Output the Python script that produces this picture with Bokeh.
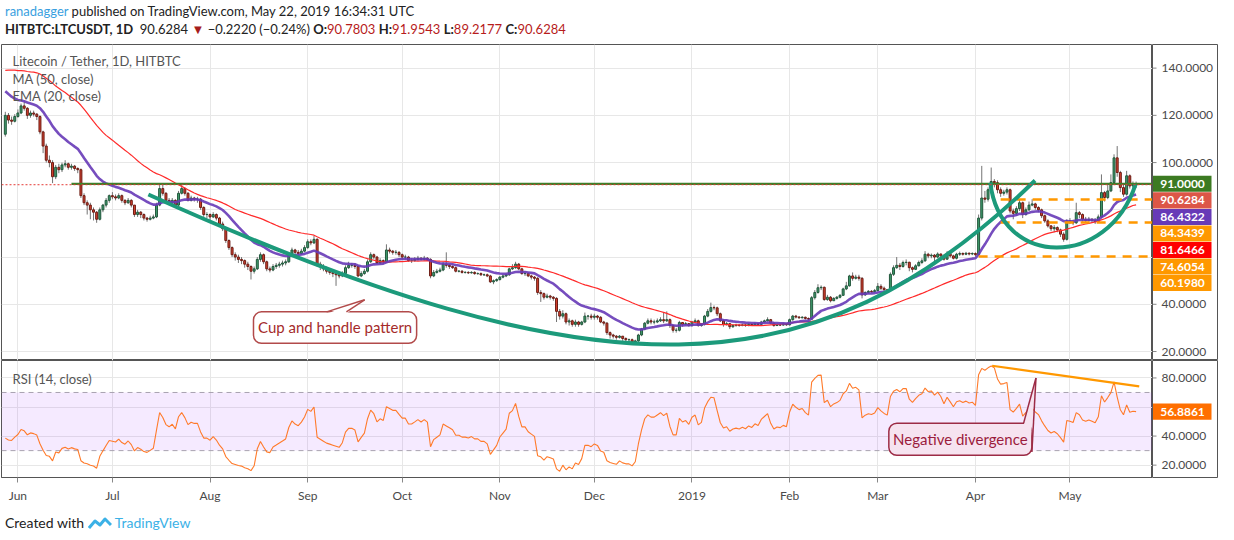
import pandas as pd
from bokeh.core.properties import value
from bokeh.embed import file_html
from bokeh.layouts import column, row
from bokeh.models import (BoxAnnotation, ColumnDataSource, Div, FixedTicker,
                          Label, Range1d, Span)
from bokeh.plotting import figure
from bokeh.resources import INLINE

FONT = "Lato"

# ---- data (LTC/USDT daily, HitBTC) ----
first_day = "2018-05-28"

# closes before the visible window, only used to warm up MA / EMA / RSI
warmup_closes = [117, 115, 117, 119, 130, 126, 128, 133, 128, 127,
                 133, 139, 150, 146, 148, 151, 160, 141, 148, 143,
                 150, 148, 147, 147, 155, 165, 168, 170, 163, 158,
                 155, 157, 147, 136, 137, 141, 139, 135, 138, 133,
                 136, 136, 139, 134, 126, 120, 122, 119, 118, 112]

closes = [
    120, 118, 117.5, 119.5,
    # Jun
    121, 124, 123, 120, 121, 120.5, 119.5, 113, 107, 101, 100, 94, 98, 97, 99,
    99.5, 98, 98.5, 97.5, 97, 86, 83, 82, 80, 79, 76, 80, 82, 84, 86,
    # Jul
    85.5, 85, 86, 84, 83, 84, 82, 78, 79, 78, 76.5, 76, 76.5, 77, 82, 89,
    87, 84, 83, 84, 82, 87, 89, 87, 84, 85, 84.5, 84.5, 81, 78, 78,
    # Aug
    77, 78, 76.5, 74, 72, 67, 64, 61, 60, 59, 58.5, 57, 56, 54, 55, 59,
    61, 58, 55, 54.5, 56, 56.5, 57, 57.5, 58, 61, 63, 62, 61.5, 62.5, 64,
    # Sep
    66.5, 66, 67.5, 57, 56, 55, 54, 53.5, 53, 52.5, 52, 53, 55.5, 56.5, 56.5,
    56, 52, 53, 54, 58, 61, 60, 57.5, 58.5, 58, 63, 62.5, 62, 62, 61,
    # Oct
    60, 60, 58.5, 58.5, 59, 59.5, 59, 59.5, 59, 52, 53.5, 54, 54.5, 57, 56.5,
    56, 55.5, 54, 54, 53.5, 53.5, 53.3, 53.5, 53, 53, 52.5, 52.5, 52, 49.5, 50, 50.5,
    # Nov
    51.5, 52, 52.5, 55, 55.5, 57, 55, 53, 53, 52, 51.5, 51, 45, 44.5, 43,
    43.5, 43, 42.5, 37, 35, 36, 32.5, 33, 31.5, 32.5, 31.5, 32.5, 35, 35, 34.5,
    # Dec
    35, 34.5, 32.5, 32, 28, 27, 26.5, 26, 26.5, 25.5, 25, 25, 24, 24.5, 27,
    29.5, 32, 33, 32.5, 32.5, 33, 33.5, 33, 33.5, 31, 29, 29, 32.3, 31.5, 31.8, 31,
    # Jan
    32.5, 33, 31, 31.5, 35, 37, 38.6, 38.5, 36, 33, 31.5, 31.8, 30.5, 31, 31.2,
    31, 31.3, 31, 31.5, 31.2, 31.8, 31.5, 32.5, 33, 33.5, 32, 31, 31.3, 31.2, 31.5, 31.3,
    # Feb
    33.5, 35, 34.6, 34.3, 34.5, 34, 33.7, 42.8, 45, 47, 47.2, 42, 43, 41.5,
    42.5, 43, 43.8, 46.5, 47.8, 52, 51, 51.5, 51, 44, 45, 45.5, 45.3, 45.8,
    # Mar
    47.6, 46.8, 46.2, 45.8, 52.7, 55.5, 56.5, 56, 57.7, 57.8, 55.5, 54.8, 56.3,
    57.7, 58.4, 61.2, 60.5, 60.8, 60, 61.3, 60.5, 59.1, 61.4, 60.5, 59.5, 61.2,
    61.5, 61.2, 61.6, 61.3, 61.5,
    # Apr
    61, 76.5, 85, 84.5, 88.5, 92, 91.5, 88.5, 87, 87.5, 88.5, 79.5, 78.5, 80.5,
    83, 78, 80, 82, 82.5, 81, 80, 77.5, 75.3, 73.2, 72, 72.5, 71.5, 69.7, 67.5, 75.3,
    # May
    75, 74.5, 78.8, 78, 76, 75.5, 76, 75.5, 75, 77, 87.3, 85.2, 88, 91.5, 102,
    95.8, 89.4, 86.6, 94.4, 90.1, 90.7803, 90.6284,
]

highs = [
    121.5, 121, 119.5, 120.5,
    122.5, 125, 126, 123.5, 122, 122, 121, 120, 113.5, 108, 103, 101, 99, 99.5, 100,
    101, 100, 99.5, 99, 98, 97.5, 87, 84, 83, 81, 79.5, 81, 82.5, 85, 86.5,
    87.5, 86.5, 87, 86.5, 84.5, 85, 84.5, 82, 80, 79.5, 78.5, 77, 77.5, 78, 83, 90.5,
    91, 87.5, 85, 85, 84.5, 88, 90.5, 89.5, 87.5, 86, 85.5, 85.5, 85, 81.5, 79,
    78.5, 79, 78.5, 77, 75, 72.5, 67.5, 64.5, 62, 61, 60, 59, 58, 56.5, 56, 60,
    62, 61.5, 58.5, 56, 57, 57.5, 58, 58.5, 59, 62, 64, 63.5, 63, 63.5, 65,
    67.5, 67.5, 69, 68, 58, 57, 56, 55, 54.5, 54, 53.5, 54, 56.5, 58, 57.5,
    57.5, 56.5, 54, 55, 59, 62, 61.5, 60.5, 59.5, 59, 65.4, 64, 63, 63, 62.5,
    61.5, 61, 60.5, 59.5, 60, 60.5, 60, 60.5, 60, 59.5, 54.5, 55, 55.5, 58, 62,
    57, 56.5, 56, 54.5, 54.5, 54, 54, 54, 54, 53.5, 53.5, 53, 53, 52.5, 50.5, 51,
    52, 52.5, 53, 55.5, 57, 58, 57.5, 55.5, 54, 53.5, 52.5, 52, 51.5, 46, 45,
    44.5, 44, 43.5, 43, 38, 37.5, 36.5, 34, 33.5, 33.5, 33, 33, 36.5, 35.5, 36,
    36, 35.5, 35, 33, 32.5, 28.5, 27.5, 27, 27, 26.5, 26, 25.5, 25.5, 25, 27.5,
    30, 32.5, 34, 34, 33.5, 34, 34.5, 36.5, 37, 34, 31.5, 30, 33, 32.5, 32.5, 32,
    33, 34, 33.5, 32, 35.5, 38, 40.7, 39.5, 39, 36.5, 33.5, 32.5, 32, 31.5, 31.8,
    31.5, 31.8, 31.5, 32, 31.8, 32.3, 32, 33, 33.5, 34.5, 33.8, 32.3, 31.8, 31.7, 32, 31.9,
    34, 35.5, 35.5, 35, 35, 34.8, 34.4, 43.5, 46, 48.5, 48, 47.5, 44, 43.5,
    43, 43.5, 44.3, 47, 49.5, 52.5, 53.5, 52.5, 52.5, 51.5, 45.5, 46, 46, 46.5,
    49, 48.5, 47.5, 46.5, 53.5, 56.5, 60, 57.5, 58.5, 59, 58, 56, 57,
    58.5, 59.5, 62.5, 61.8, 61.5, 61.3, 62, 61.5, 61, 62.5, 61.8, 61, 61.8,
    62.3, 62, 62.2, 62, 62,
    62, 78, 98.6, 88, 89.5, 97.9, 93, 92.5, 89.5, 88.5, 89.5, 89, 80.5, 81.5,
    84.5, 83.5, 81, 83.5, 84.5, 83, 81.5, 80.5, 78, 76, 73.5, 73.5, 73, 72, 70.5, 76,
    76.5, 75.8, 83, 79.5, 78.5, 77, 77, 76.5, 76.5, 78, 95, 88, 91, 95, 103.5,
    107, 96.5, 91, 96.5, 95, 92, 91.9543,
]

lows = [
    111, 116.5, 116, 117,
    119, 120.5, 122, 118.5, 119, 119.5, 118, 112, 104, 100, 98, 91.3, 93, 95.5, 96,
    98, 97, 97, 96.5, 95.5, 85, 82, 78, 76, 75.5, 74.5, 75.5, 79, 81, 83,
    84.5, 84, 84.5, 83, 82, 82.5, 81, 77, 77, 76.5, 75.5, 75, 75.5, 76, 76.5, 81.5,
    86, 83, 82, 82.5, 81, 81.5, 86.5, 86, 83.5, 83.5, 83.5, 83, 80, 77, 76.5,
    75.5, 76.5, 75.5, 73, 71, 66, 63, 60, 58.5, 57.5, 57, 55.5, 54.5, 50.5, 53, 54.5,
    58, 57, 54, 53.5, 54, 55, 55.5, 56, 56.5, 57.5, 60, 61, 60.5, 61, 62,
    63.5, 65, 65.5, 56, 54.5, 54, 53, 52.5, 51.5, 47.8, 51, 51.5, 52.5, 55, 55.5,
    55, 51.5, 51.5, 52.5, 53.5, 57.5, 59, 57, 57, 57, 57.5, 61.5, 61, 61, 60,
    59, 59, 58, 57.5, 58, 58.5, 58.5, 58.5, 58.5, 51, 51.5, 53, 53.5, 54, 55.5,
    55, 55, 53.5, 53.5, 53, 53, 52.8, 53, 52.5, 52.5, 52, 52, 51.5, 49, 48.5, 49.5,
    50, 51, 51.5, 52, 54.5, 55, 54.5, 52.5, 52, 51.5, 50.5, 50, 44, 41, 42,
    42.5, 42, 41.5, 32.5, 33.5, 34, 31.5, 31, 30.5, 30.5, 30.5, 31, 32, 33.5, 33.5,
    33.5, 33.5, 32, 31, 27, 25.5, 25.5, 25, 25.5, 24.5, 24, 24, 23.3, 23.5, 24,
    26.5, 29, 31.5, 31.5, 31.5, 32, 32.5, 32, 32.5, 30, 28, 28, 28.5, 30.5, 31, 30.5,
    30.5, 32, 30.5, 30.5, 31, 34.5, 36.5, 37.5, 35, 32.5, 30.5, 31, 29.5, 30, 30.5,
    30.5, 30.7, 30.5, 30.7, 30.8, 31, 31, 31.2, 32.2, 32.8, 31.5, 30.5, 30.8, 30.8, 31, 30.9,
    31, 33, 34, 33.8, 34, 33.5, 33.2, 33.5, 42, 44.5, 46, 41.5, 41.5, 40.8,
    41.5, 42, 42.5, 43.5, 46, 47.5, 50, 50.5, 50, 42.5, 43.5, 44.5, 44.8, 45,
    45.5, 46, 45.5, 45, 45.5, 52, 55, 54.5, 55.5, 56.5, 54, 53.5, 54.5,
    56, 57, 58, 59.5, 59.5, 57.8, 59.5, 59.8, 58.5, 58.8, 59.8, 59, 59,
    60.5, 60.6, 60.8, 60.7, 60.8,
    60.2, 60.5, 75.5, 83, 83.5, 87.5, 89.5, 87, 85.5, 86, 86.5, 78.5, 76, 77.5,
    79.5, 76.5, 77.5, 79.5, 81.5, 80, 79, 76.5, 74.5, 72.5, 71, 70.5, 70.5, 68.5, 66.5, 67,
    74, 73.5, 74, 76.5, 75, 74.5, 75, 74.5, 74, 74.5, 76.5, 83.5, 84.5, 87.5, 90.5,
    94, 87.5, 85.5, 86, 89, 89, 89.2177,
]

month_starts = ["2018-06-01", "2018-07-01", "2018-08-01", "2018-09-01",
                "2018-10-01", "2018-11-01", "2018-12-01", "2019-01-01",
                "2019-02-01", "2019-03-01", "2019-04-01", "2019-05-01"]
month_labels = ["Jun", "Jul", "Aug", "Sep", "Oct", "Nov", "Dec", "2019",
                "Feb", "Mar", "Apr", "May"]
price_ticks = [20, 40, 60, 80, 100, 120, 140]
rsi_ticks = [20, 40, 60, 80]

resistance = 91.0
resistance_start = "2018-06-18"
last_price = 90.6284
support_levels = [84.3439, 74.6054, 60.1980]
support_starts = ["2019-04-09", "2019-04-09", "2019-04-02"]

tag_values = [91.0, 90.6284, 86.4322, 84.3439, 81.6466, 74.6054, 60.1980]
tag_colors = ["#3c7a22", "#dc5647", "#673ab7", "#ff9800", "#ff0000",
              "#ff9800", "#ff9800"]
rsi_last = 56.8861

view_start, view_end = "2018-05-26 19:00", "2019-05-27 05:00"


def ms(t):
    return pd.Timestamp(t).value / 1e6


# ---- indicators ----
all_close = pd.Series(warmup_closes + closes, dtype=float)
n0 = len(warmup_closes)
ma50 = all_close.rolling(50).mean().iloc[n0:].to_numpy()
ema20 = all_close.ewm(span=20, adjust=False).mean().iloc[n0:].to_numpy()
delta = all_close.diff()
gain = delta.clip(lower=0).ewm(alpha=1 / 14, adjust=False).mean()
loss = (-delta.clip(upper=0)).ewm(alpha=1 / 14, adjust=False).mean()
rsi = (100 - 100 / (1 + gain / loss)).iloc[n0:].to_numpy()

dates = pd.date_range(first_day, periods=len(closes), freq="D")
opens = [warmup_closes[-1]] + closes[:-1]
hi = [max(h, o, c) for h, o, c in zip(highs, opens, closes)]
lo = [min(l, o, c) for l, o, c in zip(lows, opens, closes)]

df = pd.DataFrame(dict(date=dates, open=opens, high=hi, low=lo, close=closes,
                       ma=ma50, ema=ema20, rsi=rsi))
inc = ColumnDataSource(df[df.close >= df.open])
dec = ColumnDataSource(df[df.close < df.open])
src = ColumnDataSource(df)

xr = Range1d(ms(view_start), ms(view_end))
month_ms = [ms(d) for d in month_starts]
GRID = "#e7e7e7"
EDGE = "#555555"
PANE_W, SCALE_W = 1152, 66


def style(fig, yticks):
    fig.outline_line_color = EDGE
    fig.yaxis.visible = False
    fig.xgrid.ticker = FixedTicker(ticks=month_ms)
    fig.ygrid.ticker = FixedTicker(ticks=yticks)
    fig.xgrid.grid_line_color = GRID
    fig.ygrid.grid_line_color = GRID


def price_scale(height, yr, yticks, tags, half, bottom):
    """Narrow pane right of a chart: tick labels plus coloured value tags."""
    s = figure(width=SCALE_W, height=height, x_range=Range1d(0, SCALE_W),
               y_range=yr, output_backend="svg", toolbar_location=None,
               min_border_left=0, min_border_right=0, min_border_top=0,
               min_border_bottom=bottom)
    s.xaxis.visible = False
    s.yaxis.visible = False
    s.grid.visible = False
    s.outline_line_color = EDGE
    s.segment(x0=[0] * len(yticks), y0=yticks, x1=[4] * len(yticks), y1=yticks,
              line_color="#888888", line_width=1)
    # like TradingView, a tick label hidden under a value tag is not drawn
    ys = [t[0] for t in tags]
    shown = [t for t in yticks if all(abs(t - y) > 1.6 * half for y in ys)]
    s.text(x=[9] * len(shown), y=shown, text=[f"{t:.4f}" for t in shown],
           text_align="left", text_baseline="middle", text_font=value(FONT),
           text_font_size="12px", text_color="#4a4a4a")
    s.quad(left=[0.5] * len(tags), right=[59] * len(tags),
           bottom=[y - half for y in ys], top=[y + half for y in ys],
           fill_color=[t[2] for t in tags], line_color=None)
    s.text(x=[30] * len(tags), y=ys, text=[f"{t[1]:.4f}" for t in tags],
           text_align="center", text_baseline="middle", text_font=value(FONT),
           text_font_size="12px", text_font_style="bold", text_color="white")
    return s


# ---- price pane ----
p = figure(width=PANE_W, height=316, x_axis_type="datetime", x_range=xr,
           y_range=Range1d(16.2, 150), output_backend="svg",
           toolbar_location=None, min_border_left=1, min_border_right=0,
           min_border_top=0, min_border_bottom=0)
style(p, price_ticks)
p.xaxis.visible = False

day = 86400000
p.segment("date", "high", "date", "low", source=src, color="#737373", line_width=1)
p.vbar("date", 0.62 * day, "open", "close", source=inc, fill_color="#3f9b6c",
       line_color="#22573c", line_width=1)
p.vbar("date", 0.62 * day, "open", "close", source=dec, fill_color="#d6402d",
       line_color="#6b1c14", line_width=1)
p.line("date", "ma", source=src, color="#ff2a2a", line_width=1.2)
p.line("date", "ema", source=src, color="#673ab7", line_width=2.6, line_alpha=0.9)

p.add_layout(Span(location=last_price, dimension="width", line_color="#e53935",
                  line_dash="2 2", line_width=1))
p.segment(x0=[ms(resistance_start)], y0=[resistance], x1=[xr.end],
          y1=[resistance], line_color="#3f7f2a", line_width=2.2)
p.segment(x0=[ms(s) for s in support_starts], y0=support_levels,
          x1=[xr.end] * len(support_levels), y1=support_levels,
          line_color="#ff9800", line_width=2.5, line_dash="9 7")

TEAL = "#1c9a7b"
p.bezier(x0=[ms("2018-07-12 10:00")], y0=[86.5],
         cx0=[ms("2018-12-03 10:00")], cy0=[0.0],
         cx1=[ms("2019-02-08 14:00")], cy1=[1.6],
         x1=[ms("2019-04-19 22:00")], y1=[92.4],
         line_color=TEAL, line_width=4)
p.bezier(x0=[ms("2019-04-05 17:00")], y0=[91.5],
         cx0=[ms("2019-04-09")], cy0=[55.0],
         cx1=[ms("2019-05-13")], cy1=[55.0],
         x1=[ms("2019-05-21 20:00")], y1=[90.8],
         line_color=TEAL, line_width=4)

# callout "Cup and handle pattern"
CUP_RED = "#b24a4a"
p.quad(left=[ms("2018-08-14 19:00")], right=[ms("2018-10-05 14:00")],
       bottom=[23.5], top=[36.8], fill_color="white", line_color=CUP_RED,
       line_width=1.5, border_radius=8)
p.patch(x=[ms("2018-09-07"), ms("2018-09-13 07:00"), ms("2018-09-19 02:00")],
        y=[36.0, 36.0, 41.9], fill_color="white", line_color=None)
p.segment(x0=[ms("2018-09-07"), ms("2018-09-13 07:00")], y0=[36.8, 36.8],
          x1=[ms("2018-09-19 02:00")] * 2, y1=[41.9, 41.9],
          line_color=CUP_RED, line_width=1.5)
p.text(x=[ms("2018-09-09 17:00")], y=[30.2], text=["Cup and handle pattern"],
       text_align="center", text_baseline="middle", text_font=value(FONT),
       text_font_size="15px", text_color="#a52b2b")

legend_items = [("Litecoin / Tether, 1D, HITBTC", 143.0),
                ("MA (50, close)", 135.5), ("EMA (20, close)", 128.3)]
for txt, yv in legend_items:
    p.add_layout(Label(x=xr.start, y=yv, x_offset=11, text=txt, text_font=FONT,
                       text_font_size="13px", text_color="#555555",
                       text_baseline="middle"))

# value tags stacked downward on the price scale so they do not overlap
gap = 7.0
price_tags = []
for v, c in zip(tag_values, tag_colors):
    yv = v if not price_tags else min(v, price_tags[-1][0] - gap)
    price_tags.append((yv, v, c))

ps = price_scale(316, p.y_range, price_ticks, price_tags, 3.4, 0)

# ---- RSI pane ----
r = figure(width=PANE_W, height=145, x_axis_type="datetime", x_range=xr,
           y_range=Range1d(11.5, 92), output_backend="svg",
           toolbar_location=None, min_border_left=1, min_border_right=0,
           min_border_top=0, min_border_bottom=26)
style(r, rsi_ticks)
xa = r.xaxis[0]
xa.ticker = FixedTicker(ticks=month_ms)
xa.major_label_overrides = {m: lab for m, lab in zip(month_ms, month_labels)}
xa.axis_line_color = EDGE
xa.major_tick_line_color = "#888888"
xa.major_tick_in = 0
xa.major_tick_out = 5
xa.minor_tick_line_color = None
xa.major_label_text_font = FONT
xa.major_label_text_font_size = "12px"
xa.major_label_text_color = "#4a4a4a"

r.add_layout(BoxAnnotation(bottom=30, top=70, fill_color="#9b30ff",
                           fill_alpha=0.1, line_color=None, level="underlay"))
for lvl in (70, 30):
    r.add_layout(Span(location=lvl, dimension="width", line_color="#a8a2b0",
                      line_dash="5 4", line_width=1, level="underlay"))
r.line("date", "rsi", source=src, color="#ff7a2a", line_width=1.1)
r.segment(x0=[ms("2019-04-06 07:00")], y0=[88.4], x1=[ms("2019-05-23")],
          y1=[74.2], line_color="#ff9800", line_width=2.2)

DIV_RED = "#9c2b45"
r.quad(left=[ms("2019-03-04 12:00")], right=[ms("2019-04-18 22:00")],
       bottom=[26.8], top=[48.9], fill_color="#f6e3f0", line_color=DIV_RED,
       line_width=1.5, border_radius=8)
r.patch(x=[ms("2019-04-16 07:00"), ms("2019-04-18 06:00"), ms("2019-04-20 05:00")],
        y=[47.5, 30.0, 80.0], fill_color="#f6e3f0", line_color=None)
r.segment(x0=[ms("2019-04-16 07:00"), ms("2019-04-18 22:00")], y0=[48.9, 29.0],
          x1=[ms("2019-04-20 05:00")] * 2, y1=[80.0, 80.0],
          line_color=DIV_RED, line_width=1.5)
r.text(x=[ms("2019-03-27 05:00")], y=[37.9], text=["Negative divergence"],
       text_align="center", text_baseline="middle", text_font=value(FONT),
       text_font_size="15px", text_color="#9b1c3c")

r.add_layout(Label(x=xr.start, y=79.5, x_offset=11, text="RSI (14, close)",
                   text_font=FONT, text_font_size="13px", text_color="#555555",
                   text_baseline="middle"))

rs = price_scale(145, r.y_range, rsi_ticks, [(rsi_last, rsi_last, "#ff6f00")],
                 5.6, 26)

# ---- header / footer ----
header = Div(width=PANE_W + SCALE_W, height=34, text=(
    f'<div style="font-family:{FONT};font-size:13px;line-height:18px;'
    'color:#222;margin-top:-3px;white-space:nowrap">'
    '<span style="color:#3a9fe0">ranadagger</span> published on '
    'TradingView.com, May 22, 2019 16:34:31 UTC<br>'
    '<b>HITBTC:LTCUSDT, 1D</b>&nbsp; 90.6284 '
    '<span style="color:#a61c1c">&#9660;</span> &minus;0.2220 (&minus;0.24%) '
    '<b>O:</b><span style="color:#b71c1c">90.7803</span> '
    '<b>H:</b><span style="color:#b71c1c">91.9543</span> '
    '<b>L:</b><span style="color:#b71c1c">89.2177</span> '
    '<b>C:</b><span style="color:#b71c1c">90.6284</span></div>'))

footer = Div(width=PANE_W + SCALE_W, height=26, text=(
    f'<div style="font-family:{FONT};font-size:14px;color:#222;'
    'margin-top:3px;white-space:nowrap;display:flex;align-items:center">'
    'Created with&nbsp;'
    '<svg width="24" height="14" viewBox="0 0 24 14">'
    '<path d="M1 12 L7 5 L12 9 L17 3 L23 9" fill="none" stroke="#3bb1e6" '
    'stroke-width="3" stroke-linejoin="round"/></svg>'
    '<span style="color:#3bb1e6">&nbsp;TradingView</span></div>'))

layout = column(header, row(p, ps), row(r, rs), footer)
open("out.html", "w").write(file_html(layout, INLINE))
